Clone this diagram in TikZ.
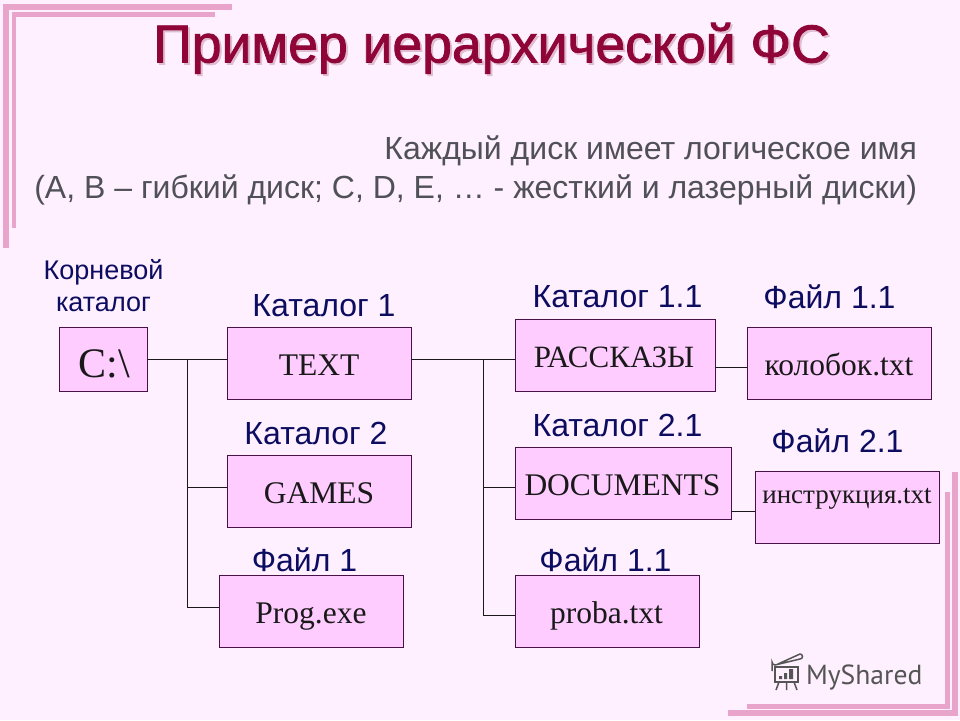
\documentclass[tikz,border=0pt]{standalone}
\usepackage{fontspec}
\setmainfont{Liberation Serif}
\setsansfont{Liberation Sans}
\newfontfamily\titlefont[FakeBold=1.6]{Liberation Sans}
\newfontfamily\logofont{PT Sans}
\definecolor{pagebg}{HTML}{FEF0FE}
\definecolor{barpink}{HTML}{E8A4CA}
\definecolor{boxfill}{HTML}{FFCCFF}
\definecolor{boxline}{HTML}{4A1048}
\definecolor{titlecol}{HTML}{8F0538}
\definecolor{shadowcol}{HTML}{E0BCD0}
\definecolor{subcol}{HTML}{505058}
\definecolor{labelcol}{HTML}{0C0C60}
\definecolor{logocol}{HTML}{555555}
\tikzset{
  every node/.style={inner sep=0pt,outer sep=0pt},
  fbox/.style={draw=boxline,line width=0.9pt,fill=boxfill,anchor=north west},
  lab/.style={font=\sffamily\fontsize{32}{36}\selectfont,text=labelcol,anchor=base},
  rootlab/.style={font=\sffamily\fontsize{27}{32}\selectfont,text=labelcol,anchor=base},
  sub/.style={font=\sffamily\fontsize{32}{38}\selectfont,text=subcol,anchor=base east},
  btext/.style={font=\rmfamily\fontsize{31.5}{34}\selectfont,text=black!90,anchor=base},
  bar/.style={fill=barpink},
  conn/.style={draw=black!90,line width=0.9pt},
  ttl/.style={font=\titlefont\fontsize{53.5}{56}\selectfont,anchor=base}
}
\begin{document}
\begin{tikzpicture}[x=1pt,y=-1pt]
\useasboundingbox (0,0) rectangle (960,720);
\fill[pagebg] (0,0) rectangle (960,720);
% frame
\fill[bar] (3,4) rectangle (232,10);
\fill[bar] (3,4) rectangle (9,248);
\fill[bar] (12,12) rectangle (215,16.5);
\fill[bar] (12,12) rectangle (16,228);
\fill[bar] (728,710) rectangle (958,716);
\fill[bar] (952,472) rectangle (958,716);
\fill[bar] (747,704) rectangle (950,708.5);
\fill[bar] (945,492) rectangle (950,708.5);
% title
\node[ttl,text=shadowcol] at (493.5,64.5) {Пример иерархической ФС};
\node[ttl,text=titlecol] (title) at (491.5,62.5) {Пример иерархической ФС};
\node[sub] (s1) at (917,159) {Каждый диск имеет логическое имя};
\node[sub] (s2) at (917,198) {(А, В – гибкий диск; С, D, Е, … - жесткий и лазерный диски)};
% labels
\node[rootlab] (l0a) at (103.5,279) {Корневой};
\node[rootlab] (l0b) at (103.5,311) {каталог};
\node[lab] (l1) at (324,316) {Каталог 1};
\node[lab] (l2) at (316,444) {Каталог 2};
\node[lab] (l3) at (304.5,571) {Файл 1};
\node[lab] (l4) at (617.5,307) {Каталог 1.1};
\node[lab] (l5) at (617.5,436) {Каталог 2.1};
\node[lab] (l6) at (605.5,571) {Файл 1.1};
\node[lab] (l7) at (829.5,308) {Файл 1.1};
\node[lab] (l8) at (837.5,452) {Файл 2.1};
% junctions
\coordinate (j1) at (187,359);
\coordinate (j2) at (187,487);
\coordinate (j3) at (187,607);
\coordinate (k1) at (483,359);
\coordinate (k2) at (483,487);
\coordinate (k3) at (483,615);
% boxes
\node[fbox,minimum width=88pt,minimum height=64pt] (c) at (59,327) {};
\node[fbox,minimum width=184pt,minimum height=72pt] (text) at (227,327) {};
\node[fbox,minimum width=184pt,minimum height=72pt] (games) at (227,455) {};
\node[fbox,minimum width=184pt,minimum height=72pt] (prog) at (219,575) {};
\node[fbox,minimum width=200pt,minimum height=72pt] (rass) at (515,319) {};
\node[fbox,minimum width=216pt,minimum height=72pt] (docs) at (515,447) {};
\node[fbox,minimum width=184pt,minimum height=72pt] (proba) at (515,575) {};
\node[fbox,minimum width=184pt,minimum height=72pt] (kol) at (747,327) {};
\node[fbox,minimum width=184pt,minimum height=72pt] (instr) at (755,471) {};
% box texts
\node[btext,font=\rmfamily\fontsize{42}{46}\selectfont] at (104,377) {C:\textbackslash};
\node[btext] at (319,375) {TEXT};
\node[btext] at (319,503) {GAMES};
\node[btext] at (311,623) {Prog.exe};
\node[btext,font=\rmfamily\fontsize{31}{34}\selectfont] at (614,367) {РАССКАЗЫ};
\node[btext] at (622.5,495) {DOCUMENTS};
\node[btext] at (606.5,623) {proba.txt};
\node[btext,font=\rmfamily\fontsize{31.5}{34}\selectfont] at (839,375) {колобок.txt};
\node[btext,font=\rmfamily\fontsize{27}{30}\selectfont] at (847,503) {инструкция.txt};
% connectors
\draw[conn] (c.east |- j1) -- (text.west |- j1);
\draw[conn] (j1) -- (j3);
\draw[conn] (j2) -- (games.west |- j2);
\draw[conn] (j3) -- (prog.west |- j3);
\draw[conn] (text.east |- k1) -- (rass.west |- k1);
\draw[conn] (k1) -- (k3);
\draw[conn] (k2) -- (docs.west |- k2);
\draw[conn] (k3) -- (proba.west |- k3);
\draw[conn] (rass.east |- 0,367) -- (kol.west |- 0,367);
\draw[conn] (docs.east |- 0,511) -- (instr.west |- 0,511);
% logo
\node[font=\logofont\fontsize{27.6}{30}\selectfont,text=logocol,anchor=base west] (logo) at (806,684) {MyShared};
\begin{scope}[draw=logocol,line width=1.5pt]
\draw (775,667) rectangle (798,682);
\draw (772,671) -- (772,662) arc (180:90:3) -- (800,659) arc (90:-90:2.5) -- (778,664);
\draw (779,682) -- (776,690) (786.5,682) -- (786.5,690) (794,682) -- (797,690);
\fill[logocol] (779,676) rectangle (782,679) (784,673) rectangle (787,679) (789,669) rectangle (793,679);
\end{scope}
\end{tikzpicture}
\end{document}
